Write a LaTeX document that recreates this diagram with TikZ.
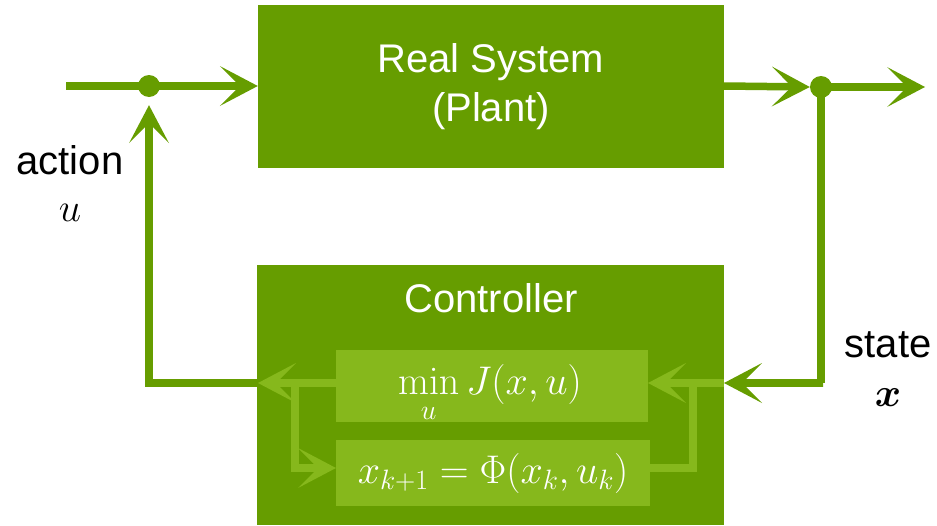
\RequirePackage{fix-cm}
\documentclass[tikz,border=0pt]{standalone}
\usepackage{amsmath}
\usepackage{bm}
\usepackage[no-math]{fontspec}
\setmainfont{Liberation Sans}
\usetikzlibrary{arrows.meta}
\definecolor{plantgreen}{HTML}{669D00}
\definecolor{innergreen}{HTML}{86B81C}
\begin{document}
\begin{tikzpicture}[x=1pt,y=-1pt,
  block/.style={fill=plantgreen,draw=none,text=white,inner sep=0pt,align=center,
    font=\fontsize{40}{49}\selectfont},
  subblock/.style={fill=innergreen,draw=none,text=white,inner sep=0pt,
    font=\fontsize{40}{46}\selectfont},
  label/.style={inner sep=0pt,font=\fontsize{40}{46}\selectfont},
  bigtip/.tip={Stealth[length=38pt,width=40pt,inset=20pt,line width=0pt]},
  flow/.style={draw=plantgreen,line width=7.5pt},
  innerflow/.style={draw=innergreen,line width=7.5pt},
  junction/.style={circle,fill=plantgreen,draw=none,minimum size=22pt,inner sep=0pt}]
\useasboundingbox (0,0) rectangle (937,525);

% blocks
\node[block,minimum width=466pt,minimum height=163pt] (plant) at (491,86.5)
  {Real System\\(Plant)};
\node[block,minimum width=467pt,minimum height=260pt] (ctrl) at (490.5,395) {};
\node[block,fill=none] (ctrltitle) at (491,298) {Controller};
\node[subblock,minimum width=312pt,minimum height=72pt] (opt) at (492,386) {};
\node[subblock,fill=none,anchor=base] (opttext) at (490,394)
  {$\displaystyle\min_{\mathstrut u} J(x,u)$};
\node[subblock,minimum width=314pt,minimum height=66pt] (model) at (493,473)
  {$x_{k+1}=\Phi(x_k,u_k)$};

% junctions
\node[junction] (jin) at (149,86) {};
\node[junction] (jout) at (821,87) {};

% coordinates of the loop corners
\coordinate (src) at (66,86);
\coordinate (sink) at (925,87);
\coordinate (lcorner) at (149,383);
\coordinate (rcorner) at (823,383);
\coordinate (cleft) at (258,383);
\coordinate (cright) at (724,383);
\coordinate (optleft) at (336,383);
\coordinate (optright) at (648,383);
\coordinate (lsplit) at (295,383);
\coordinate (rsplit) at (693,383);
\coordinate (modleft) at (336,468);
\coordinate (modright) at (650,468);

% main signal path
\draw[flow] (src) -- (jin.center);
\draw[flow,-bigtip] (jin.center) -- (plant.west |- jin);
\draw[flow,-bigtip] (plant.east |- jin) -- (jout.west);
\draw[flow,-bigtip] (jout.center) -- (sink);

% state feedback into the controller
\draw[flow,-bigtip] (jout.center) |- (rcorner) -- (cright);
% action back to the input junction
\draw[flow,-bigtip,shorten >=8pt] (cleft) -- (lcorner) -- (jin.south);

% signals inside the controller
\draw[innerflow,-bigtip] (cright) -- (optright);
\draw[innerflow] (rsplit) |- (modright);
\draw[innerflow,-bigtip] (optleft) -- (cleft);
\draw[innerflow,-bigtip] (lsplit) |- (modleft);

% signal labels
\node[label] (act) at (70,160) {action};
\node[label] (actsym) at (70,213) {$u$};
\node[label] (st) at (888,345) {state};
\node[label] (stsym) at (888,398) {$\bm{x}$};
\end{tikzpicture}
\end{document}
